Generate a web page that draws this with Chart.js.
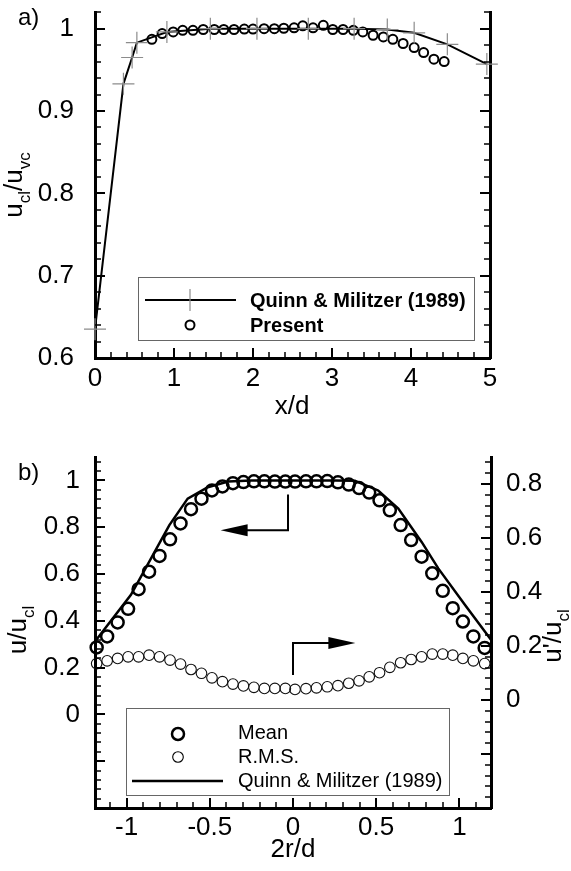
<!DOCTYPE html>
<html>
<head>
<meta charset="utf-8">
<script src="https://cdn.jsdelivr.net/npm/chart.js@4.4.1/dist/chart.umd.min.js"></script>
<style>
  html, body { margin: 0; padding: 0; background: #fff; }
  canvas { display: block; }
</style>
</head>
<body>
<canvas id="decayChart" width="571" height="430"></canvas>
<canvas id="profileChart" width="571" height="441"></canvas>
<script>
// a) centreline velocity along the jet
const quinnXA = [0, 0.36, 0.47, 0.53, 0.91, 1.46, 2.05, 2.70, 3.28, 3.70, 4.04, 4.46, 4.96];
const quinnYA = [0.635, 0.933, 0.965, 0.983, 0.996, 1.0, 1.0, 1.0, 1.0, 0.999, 0.995, 0.981, 0.957];
const presentX = [0.72, 0.85, 0.99, 1.11, 1.24, 1.37, 1.51, 1.63, 1.76, 1.89, 2.00, 2.14, 2.27, 2.39, 2.52,
                  2.63, 2.76, 2.89, 3.01, 3.14, 3.27, 3.39, 3.52, 3.65, 3.77, 3.90, 4.04, 4.16, 4.29, 4.42];
const presentY = [0.987, 0.994, 0.996, 0.998, 0.998, 0.999, 0.999, 0.999, 0.999, 0.9995, 0.9995, 1.0, 1.0, 1.0005, 1.001,
                  1.0035, 1.001, 1.004, 0.999, 0.999, 0.998, 0.996, 0.992, 0.990, 0.987, 0.982, 0.977, 0.971, 0.963, 0.960];

// b) radial profiles, mean on the left axis and r.m.s. on the right axis
const radialPos = [-1.18, -1.117, -1.054, -0.991, -0.928, -0.865, -0.802, -0.739, -0.676, -0.613,
                   -0.55, -0.487, -0.424, -0.361, -0.298, -0.235, -0.172, -0.109, -0.046, 0.012,
                   0.078, 0.141, 0.206, 0.27, 0.335, 0.397, 0.458, 0.52, 0.582, 0.647,
                   0.71, 0.773, 0.837, 0.9, 0.96, 1.021, 1.084, 1.152];
const meanU = [0.286, 0.333, 0.393, 0.451, 0.535, 0.610, 0.677, 0.748, 0.816, 0.877,
               0.922, 0.957, 0.974, 0.988, 0.993, 0.996, 0.996, 0.995, 0.995, 0.995,
               0.996, 0.996, 0.997, 0.992, 0.982, 0.967, 0.948, 0.915, 0.872, 0.809,
               0.745, 0.674, 0.603, 0.528, 0.454, 0.397, 0.333, 0.284];
const rmsU = [0.135, 0.145, 0.154, 0.160, 0.160, 0.166, 0.160, 0.148, 0.133, 0.113,
              0.099, 0.082, 0.068, 0.059, 0.052, 0.047, 0.043, 0.043, 0.043, 0.039,
              0.042, 0.045, 0.049, 0.053, 0.062, 0.071, 0.086, 0.101, 0.121, 0.138,
              0.150, 0.160, 0.170, 0.170, 0.166, 0.154, 0.145, 0.135];
const quinnXB = [-1.19, -0.974, -0.743, -0.633, -0.512, -0.39, -0.25, 0, 0.25, 0.372, 0.512, 0.633, 0.773, 0.873, 1.034, 1.19];
const quinnYB = [0.312, 0.511, 0.809, 0.922, 0.971, 0.995, 1.0, 1.0, 1.0, 0.998, 0.957, 0.88, 0.737, 0.624, 0.468, 0.319];

// arrows pointing each profile to its axis (x, y in axis units)
const meanArrow = [[-0.03, 0.94], [-0.03, 0.787], [-0.435, 0.787]];
const rmsArrow = [[0, 0.093], [0, 0.211], [0.375, 0.211]];

// tick labels
const xTicksA = [0, 1, 2, 3, 4, 5];
const yTicksA = [0.6, 0.7, 0.8, 0.9, 1];
const xTicksB = [-1, -0.5, 0, 0.5, 1];
const yTicksB = [0, 0.2, 0.4, 0.6, 0.8, 1];
const y2TicksB = [0, 0.2, 0.4, 0.6, 0.8];

const FONT = "'Liberation Sans', Arial, Helvetica, sans-serif";
Chart.defaults.font.family = FONT;
Chart.defaults.color = '#000';

const tickFont = { family: FONT, size: 26 };

function fmt(v) {
    return String(Math.round(v * 100) / 100);
}

function steps(from, to, step) {
    const out = [];
    for (let i = 0; from + i * step <= to + 1e-9; i++) out.push(Math.round((from + i * step) * 1000) / 1000);
    return out;
}

function toPoints(xs, ys) {
    return xs.map((x, i) => ({ x: x, y: ys[i] }));
}

function fixedTicks(list) {
    return function(scale) {
        scale.ticks = list.map(v => ({ value: v }));
    };
}

// keep the plot frame where we put it: no extra room for overhanging labels
function fitWidth(w) {
    return function(s) {
        s.width = w;
        s.paddingTop = 0;
        s.paddingBottom = 0;
    };
}

function fitHeight(h) {
    return function(s) {
        s.height = h;
        s.paddingLeft = 0;
        s.paddingRight = 0;
    };
}

// tick marks on the inside of the frame
function drawInwardTicks(chart, sets) {
    const ctx = chart.ctx;
    const a = chart.chartArea;
    ctx.save();
    ctx.strokeStyle = '#000';
    ctx.lineCap = 'butt';
    sets.forEach(set => {
        const scale = chart.scales[set.axis];
        ctx.lineWidth = set.width;
        ctx.beginPath();
        set.values.forEach(v => {
            const p = Math.round(scale.getPixelForValue(v));
            if (set.edge === 'bottom') {
                ctx.moveTo(p, a.bottom);
                ctx.lineTo(p, a.bottom - set.len);
            } else if (set.edge === 'left') {
                ctx.moveTo(a.left, p);
                ctx.lineTo(a.left + set.len, p);
            } else {
                ctx.moveTo(a.right, p);
                ctx.lineTo(a.right - set.len, p);
            }
        });
        ctx.stroke();
    });
    ctx.restore();
}

// rotated axis title built from pieces, some of them subscripts
function rotatedTitle(ctx, cx, cy, parts) {
    ctx.save();
    ctx.translate(cx, cy);
    ctx.rotate(-Math.PI / 2);
    ctx.textAlign = 'left';
    ctx.textBaseline = 'alphabetic';
    ctx.fillStyle = '#000';
    let total = 0;
    parts.forEach(p => {
        ctx.font = p.size + 'px ' + FONT;
        p.w = ctx.measureText(p.t).width;
        total += p.w;
    });
    let x = -total / 2;
    parts.forEach(p => {
        ctx.font = p.size + 'px ' + FONT;
        ctx.fillText(p.t, x, p.dy || 0);
        x += p.w;
    });
    ctx.restore();
}

function plainText(ctx, text, x, y, font, align) {
    ctx.save();
    ctx.font = font;
    ctx.fillStyle = '#000';
    ctx.textAlign = align || 'left';
    ctx.textBaseline = 'middle';
    ctx.fillText(text, x, y);
    ctx.restore();
}

function drawArrow(ctx, pts) {
    const n = pts.length;
    const [tx, ty] = pts[n - 1];
    const [px, py] = pts[n - 2];
    const len = Math.hypot(tx - px, ty - py);
    const ux = (tx - px) / len, uy = (ty - py) / len;
    ctx.save();
    ctx.strokeStyle = '#000';
    ctx.fillStyle = '#000';
    ctx.lineWidth = 2;
    ctx.beginPath();
    ctx.moveTo(pts[0][0], pts[0][1]);
    for (let i = 1; i < n - 1; i++) ctx.lineTo(pts[i][0], pts[i][1]);
    ctx.lineTo(tx - ux * 24, ty - uy * 24);
    ctx.stroke();
    ctx.beginPath();
    ctx.moveTo(tx, ty);
    ctx.lineTo(tx - ux * 27 - uy * 6, ty - uy * 27 + ux * 6);
    ctx.lineTo(tx - ux * 27 + uy * 6, ty - uy * 27 - ux * 6);
    ctx.closePath();
    ctx.fill();
    ctx.restore();
}

function circleMark(ctx, x, y, r, w) {
    ctx.save();
    ctx.strokeStyle = '#000';
    ctx.lineWidth = w;
    ctx.beginPath();
    ctx.arc(x, y, r, 0, Math.PI * 2);
    ctx.stroke();
    ctx.restore();
}

function legendFrame(ctx, x0, y0, x1, y1) {
    ctx.save();
    ctx.strokeStyle = '#666';
    ctx.lineWidth = 1;
    ctx.strokeRect(x0 + 0.5, y0 + 0.5, x1 - x0, y1 - y0);
    ctx.restore();
}

const frameBorder = { display: true, color: '#000', width: 3 };

// ---------- a) ----------
const decayTicks = [
    { axis: 'x', edge: 'bottom', values: xTicksA, len: 10, width: 2 },
    { axis: 'x', edge: 'bottom', values: steps(0.2, 4.8, 0.2), len: 6, width: 1.5 },
    { axis: 'y', edge: 'left', values: steps(0.6, 1.0, 0.1), len: 10, width: 2 },
    { axis: 'y', edge: 'left', values: steps(0.62, 1.02, 0.02), len: 6, width: 1.5 },
    { axis: 'yR', edge: 'right', values: steps(0.6, 1.0, 0.1), len: 10, width: 2 },
    { axis: 'yR', edge: 'right', values: steps(0.62, 1.02, 0.02), len: 6, width: 1.5 }
];

const decayDecor = {
    id: 'decayDecor',
    afterDraw(chart) {
        const ctx = chart.ctx;
        drawInwardTicks(chart, decayTicks);
        plainText(ctx, 'a)', 18, 18, '24px ' + FONT);
        plainText(ctx, 'x/d', 292, 407, '26px ' + FONT, 'center');
        rotatedTitle(ctx, 22, 185, [
            { t: 'u', size: 26 }, { t: 'cl', size: 17, dy: 8 },
            { t: '/u', size: 26 }, { t: 'vc', size: 17, dy: 8 }
        ]);

        // legend
        legendFrame(ctx, 138, 277, 474, 340);
        ctx.save();
        ctx.strokeStyle = '#000';
        ctx.lineWidth = 2;
        ctx.beginPath();
        ctx.moveTo(145, 300);
        ctx.lineTo(236, 300);
        ctx.stroke();
        ctx.strokeStyle = '#8c8c8c';
        ctx.lineWidth = 1.2;
        ctx.beginPath();
        ctx.moveTo(190, 289);
        ctx.lineTo(190, 311);
        ctx.stroke();
        ctx.restore();
        circleMark(ctx, 190, 325, 4.5, 2);
        plainText(ctx, 'Quinn & Militzer (1989)', 250, 301, 'bold 20px ' + FONT);
        plainText(ctx, 'Present', 250, 326, 'bold 20px ' + FONT);
    }
};

new Chart(document.getElementById('decayChart'), {
    type: 'scatter',
    data: {
        datasets: [
            {
                label: 'Quinn & Militzer (1989)',
                data: toPoints(quinnXA, quinnYA),
                showLine: true,
                borderColor: '#000',
                borderWidth: 2,
                pointStyle: 'cross',
                pointRadius: 11,
                pointBorderColor: '#8c8c8c',
                pointBorderWidth: 1.2,
                clip: false
            },
            {
                label: 'Present',
                data: toPoints(presentX, presentY),
                pointStyle: 'circle',
                pointRadius: 4.5,
                pointBorderWidth: 2,
                pointBorderColor: '#000',
                pointBackgroundColor: 'rgba(0,0,0,0)',
                clip: false
            }
        ]
    },
    options: {
        responsive: false,
        animation: false,
        events: [],
        layout: { padding: { top: 7, left: 0, right: 0, bottom: 0 } },
        plugins: {
            legend: { display: false },
            tooltip: { enabled: false }
        },
        scales: {
            x: {
                type: 'linear', position: 'bottom', min: 0, max: 5,
                afterBuildTicks: fixedTicks(xTicksA),
                afterFit: fitHeight(72),
                grid: { display: false },
                border: frameBorder,
                ticks: { font: tickFont, padding: -3, maxRotation: 0, autoSkip: false, callback: fmt }
            },
            y: {
                type: 'linear', position: 'left', min: 0.6, max: 1.02,
                afterBuildTicks: fixedTicks(yTicksA),
                afterFit: fitWidth(95),
                grid: { display: false },
                border: frameBorder,
                ticks: { font: tickFont, padding: 13, autoSkip: false, callback: fmt }
            },
            yR: {
                type: 'linear', position: 'right', min: 0.6, max: 1.02,
                afterFit: fitWidth(81),
                grid: { display: false },
                border: frameBorder,
                ticks: { display: false }
            }
        }
    },
    plugins: [decayDecor]
});

// ---------- b) ----------
const profileTicks = [
    { axis: 'x', edge: 'bottom', values: xTicksB, len: 10, width: 2 },
    { axis: 'x', edge: 'bottom', values: steps(-1.1, 1.1, 0.1), len: 6, width: 1.5 },
    { axis: 'y', edge: 'left', values: steps(-0.4, 1.0, 0.2), len: 10, width: 2 },
    { axis: 'y', edge: 'left', values: steps(-0.36, 1.08, 0.04), len: 6, width: 1.5 },
    { axis: 'yR', edge: 'right', values: steps(-0.4, 0.8, 0.2), len: 10, width: 2 },
    { axis: 'yR', edge: 'right', values: steps(-0.36, 0.88, 0.04), len: 6, width: 1.5 }
];

const profileDecor = {
    id: 'profileDecor',
    afterDraw(chart) {
        const ctx = chart.ctx;
        const sx = chart.scales.x, sy = chart.scales.y, sr = chart.scales.yR;
        drawInwardTicks(chart, profileTicks);
        plainText(ctx, 'b)', 18, 43, '24px ' + FONT);
        plainText(ctx, '2r/d', 293, 420, '26px ' + FONT, 'center');
        rotatedTitle(ctx, 26, 200, [
            { t: 'u/u', size: 26 }, { t: 'cl', size: 17, dy: 8 }
        ]);
        rotatedTitle(ctx, 561, 206, [
            { t: "u'/u", size: 26 }, { t: 'cl', size: 17, dy: 8 }
        ]);

        drawArrow(ctx, meanArrow.map(p => [sx.getPixelForValue(p[0]), sy.getPixelForValue(p[1])]));
        drawArrow(ctx, rmsArrow.map(p => [sx.getPixelForValue(p[0]), sr.getPixelForValue(p[1])]));

        // legend
        legendFrame(ctx, 126, 278, 449, 365);
        circleMark(ctx, 178, 304, 6, 2.5);
        circleMark(ctx, 178, 327, 5.3, 1.1);
        ctx.save();
        ctx.strokeStyle = '#000';
        ctx.lineWidth = 2.5;
        ctx.beginPath();
        ctx.moveTo(132, 351);
        ctx.lineTo(223, 351);
        ctx.stroke();
        ctx.restore();
        plainText(ctx, 'Mean', 238, 303, '20px ' + FONT);
        plainText(ctx, 'R.M.S.', 238, 327, '20px ' + FONT);
        plainText(ctx, 'Quinn & Militzer (1989)', 238, 351, '20px ' + FONT);
    }
};

new Chart(document.getElementById('profileChart'), {
    type: 'scatter',
    data: {
        datasets: [
            {
                label: 'Quinn & Militzer (1989)',
                data: toPoints(quinnXB, quinnYB),
                showLine: true,
                borderColor: '#000',
                borderWidth: 2.5,
                pointRadius: 0,
                yAxisID: 'y',
                clip: false
            },
            {
                label: 'Mean',
                data: toPoints(radialPos, meanU),
                pointStyle: 'circle',
                pointRadius: 6,
                pointBorderWidth: 2.5,
                pointBorderColor: '#000',
                pointBackgroundColor: 'rgba(0,0,0,0)',
                yAxisID: 'y',
                clip: false
            },
            {
                label: 'R.M.S.',
                data: toPoints(radialPos, rmsU),
                pointStyle: 'circle',
                pointRadius: 5.3,
                pointBorderWidth: 1.1,
                pointBorderColor: '#111',
                pointBackgroundColor: 'rgba(0,0,0,0)',
                yAxisID: 'yR',
                clip: false
            }
        ]
    },
    options: {
        responsive: false,
        animation: false,
        events: [],
        layout: { padding: { top: 27, left: 0, right: 0, bottom: 0 } },
        plugins: {
            legend: { display: false },
            tooltip: { enabled: false }
        },
        scales: {
            x: {
                type: 'linear', position: 'bottom', min: -1.19, max: 1.19,
                afterBuildTicks: fixedTicks(xTicksB),
                afterFit: fitHeight(63),
                grid: { display: false },
                border: frameBorder,
                ticks: { font: tickFont, padding: -4, maxRotation: 0, autoSkip: false, callback: fmt }
            },
            y: {
                type: 'linear', position: 'left', min: -0.4, max: 1.1,
                afterBuildTicks: fixedTicks(yTicksB),
                afterFit: fitWidth(95),
                grid: { display: false },
                border: frameBorder,
                ticks: { font: tickFont, padding: 7, autoSkip: false, callback: fmt }
            },
            yR: {
                type: 'linear', position: 'right', min: -0.4, max: 0.9,
                afterBuildTicks: fixedTicks(y2TicksB),
                afterFit: fitWidth(80),
                grid: { display: false },
                border: frameBorder,
                ticks: { font: tickFont, padding: 7, autoSkip: false, callback: fmt }
            }
        }
    },
    plugins: [profileDecor]
});
</script>
</body>
</html>
